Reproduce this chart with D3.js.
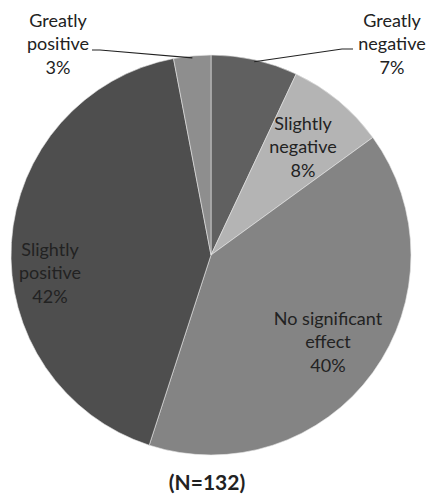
<!DOCTYPE html>
<html>
<head>
<meta charset="utf-8">
<script src="https://cdn.jsdelivr.net/npm/d3@7"></script>
<style>
  html, body { margin: 0; padding: 0; background: #fff; }
  text { font-family: Lato, "Open Sans", sans-serif; fill: #222; }
</style>
</head>
<body>
<div id="chart"></div>
<script>
// survey answers, clockwise from 12 o'clock
var categories = ['Greatly negative', 'Slightly negative', 'No significant effect', 'Slightly positive', 'Greatly positive'];
var shares = [7, 8, 40, 42, 3];
var labelLines = [['Greatly', 'negative'], ['Slightly', 'negative'], ['No significant', 'effect'], ['Slightly', 'positive'], ['Greatly', 'positive']];
var sampleNote = '(N=132)';

var colors = ['#606060', '#b4b4b4', '#848484', '#4e4e4e', '#8e8e8e'];

var width = 429, height = 500;
var cx = 211, cy = 255, radius = 200;
var lineH = 23.5;

// where each label block sits (centre of the block); outer ones get a leader
var labelPos = [
  { x: 392, y: 44, leader: [[342, 49], [353, 49]] },
  { x: 303, y: 147 },
  { x: 328, y: 342 },
  { x: 50, y: 273 },
  { x: 58, y: 44, leader: [[100, 50], [92, 50]] }
];

var svg = d3.select('#chart').append('svg')
  .attr('width', width)
  .attr('height', height);

var pie = d3.pie().sort(null).value(function(d) { return d; });
var arcs = pie(shares);

var arc = d3.arc().innerRadius(0).outerRadius(radius);
var edgeArc = d3.arc().innerRadius(radius - 2).outerRadius(radius - 2);

var g = svg.append('g').attr('transform', 'translate(' + cx + ',' + cy + ')');

g.selectAll('path.slice')
  .data(arcs)
  .enter().append('path')
  .attr('class', 'slice')
  .attr('d', arc)
  .attr('fill', function(d, i) { return colors[i]; })
  .attr('stroke', '#e6e6e6')
  .attr('stroke-width', 0.6);

// leader lines for the thin slices
arcs.forEach(function(d, i) {
  var lp = labelPos[i];
  if (!lp.leader) return;
  var p = edgeArc.centroid(d);
  var pts = [[p[0] + cx, p[1] + cy]].concat(lp.leader);
  svg.append('path')
    .attr('d', d3.line()(pts))
    .attr('fill', 'none')
    .attr('stroke', '#222')
    .attr('stroke-width', 1.2);
});

// labels
arcs.forEach(function(d, i) {
  var lp = labelPos[i];
  var lines = labelLines[i].concat([d3.format('.0f')(shares[i]) + '%']);
  var t = svg.append('text')
    .attr('text-anchor', 'middle')
    .attr('font-size', 18);
  lines.forEach(function(s, k) {
    t.append('tspan')
      .attr('x', lp.x)
      .attr('y', lp.y + (k - 1) * lineH)
      .attr('dy', '0.35em')
      .text(s);
  });
});

svg.append('text')
  .attr('x', 207)
  .attr('y', 483)
  .attr('dy', '0.35em')
  .attr('text-anchor', 'middle')
  .attr('font-size', 21)
  .attr('font-weight', 'bold')
  .text(sampleNote);
</script>
</body>
</html>
